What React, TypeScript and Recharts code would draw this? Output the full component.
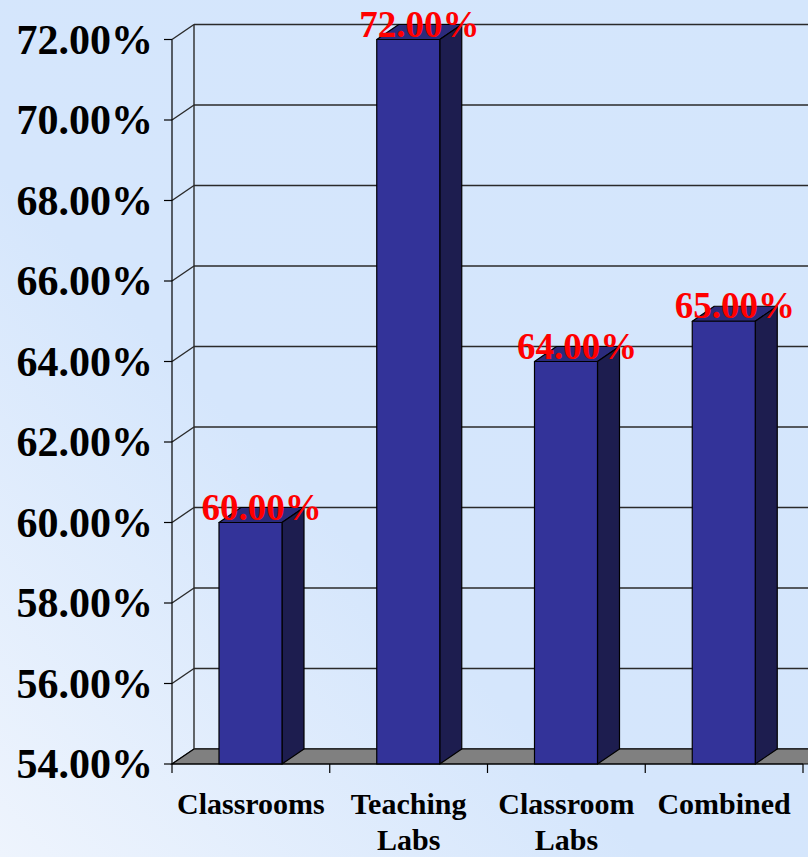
import { BarChart, Bar, XAxis, YAxis, CartesianGrid, ReferenceArea, LabelList } from 'recharts';

const categories = ['Classrooms', 'Teaching Labs', 'Classroom Labs', 'Combined'];
const percentages = [60, 72, 64, 65];
const yTicks = [54, 56, 58, 60, 62, 64, 66, 68, 70, 72];

const data = categories.map((name, i) => ({ name, value: percentages[i] }));

// depth offset of the 3D box (back wall sits up and to the right)
const DX = 22;
const DY = -15;
const SERIF = '"Liberation Serif", "Times New Roman", serif';

const fmt = (v: number) => `${v.toFixed(2)}%`;

function Bar3D(props: any) {
  const { x, y, width, height } = props;
  if (height == null || width == null) return null;
  return (
    <g stroke="#000" strokeWidth={1.2} strokeLinejoin="round">
      <polygon
        points={`${x},${y} ${x + DX},${y + DY} ${x + width + DX},${y + DY} ${x + width},${y}`}
        fill="#2b2b7c"
      />
      <polygon
        points={`${x + width},${y} ${x + width + DX},${y + DY} ${x + width + DX},${y + height + DY} ${x + width},${y + height}`}
        fill="#1d1d4f"
      />
      <rect x={x} y={y} width={width} height={height} fill="#333399" />
    </g>
  );
}

function ValueLabel(props: any) {
  const { x = 0, y = 0, width = 0, value } = props;
  return (
    <text
      x={x + width / 2 + DX / 2}
      y={y - 3}
      fill="#ff0000"
      fontSize={37}
      fontWeight="bold"
      fontFamily={SERIF}
      textAnchor="middle"
    >
      {fmt(value)}
    </text>
  );
}

function WallLine(props: any) {
  const { x1, y1, x2 } = props;
  return (
    <g stroke="#2a2a2a" strokeWidth={1.4}>
      <line x1={x1} y1={y1} x2={x1 + DX} y2={y1 + DY} />
      <line x1={x1 + DX} y1={y1 + DY} x2={x2 + DX} y2={y1 + DY} />
    </g>
  );
}

function Frame(props: any) {
  const { x, y, width, height } = props;
  const bottom = y + height;
  const right = x + width + DX;
  return (
    <g>
      <polygon
        points={`${x},${bottom} ${right},${bottom} ${right},${bottom + DY} ${x + DX},${bottom + DY}`}
        fill="#808080"
        stroke="#000"
        strokeWidth={1.2}
      />
      <line x1={x + DX} y1={y + DY} x2={x + DX} y2={bottom + DY} stroke="#2a2a2a" strokeWidth={1.4} />
    </g>
  );
}

function YTick(props: any) {
  const { x, y, payload } = props;
  return (
    <text
      x={x}
      y={y}
      dy={14}
      textAnchor="end"
      fontSize={42}
      fontWeight="bold"
      fontFamily={SERIF}
      fill="#000"
    >
      {fmt(payload.value)}
    </text>
  );
}

function XTick(props: any) {
  const { x, y, payload, width, visibleTicksCount, index } = props;
  const band = width / visibleTicksCount;
  const lines = String(payload.value).split(' ');
  const axisY = y - 9;
  return (
    <g>
      <line x1={x - band / 2} y1={axisY} x2={x - band / 2} y2={axisY + 9} stroke="#000" strokeWidth={1.2} />
      {index === visibleTicksCount - 1 && (
        <line x1={x + band / 2} y1={axisY} x2={x + band / 2} y2={axisY + 9} stroke="#000" strokeWidth={1.2} />
      )}
      <text textAnchor="middle" fontSize={30} fontWeight="bold" fontFamily={SERIF} fill="#000">
        {lines.map((line, i) => (
          <tspan key={i} x={x} y={axisY + 50 + i * 36}>
            {line}
          </tspan>
        ))}
      </text>
    </g>
  );
}

export default function App() {
  return (
    <div
      style={{
        position: 'absolute',
        left: 0,
        top: 0,
        width: 808,
        height: 857,
        overflow: 'hidden',
        background: 'linear-gradient(to top right, #eef4fd 0%, #d5e6fc 40%, #d4e6fc 100%)',
      }}
    >
      <BarChart
        width={808}
        height={857}
        data={data}
        margin={{ top: 39.5, right: 5, left: 0, bottom: 0 }}
        barSize={63}
      >
        <ReferenceArea y1={54} y2={72} shape={<Frame />} ifOverflow="visible" />
        <CartesianGrid vertical={false} horizontal={(p: any) => <WallLine key={p.key} {...p} />} />
        <XAxis
          dataKey="name"
          height={93}
          axisLine={{ stroke: '#000', strokeWidth: 1.2 }}
          tickLine={false}
          tickSize={9}
          tickMargin={0}
          interval={0}
          tick={<XTick />}
        />
        <YAxis
          width={172}
          domain={[54, 72]}
          ticks={yTicks}
          interval={0}
          axisLine={{ stroke: '#000', strokeWidth: 1.2 }}
          tickLine={{ stroke: '#000', strokeWidth: 1.2 }}
          tickSize={8}
          tickMargin={11}
          tick={<YTick />}
        />
        <Bar dataKey="value" shape={<Bar3D />} isAnimationActive={false}>
          <LabelList dataKey="value" content={<ValueLabel />} />
        </Bar>
      </BarChart>
    </div>
  );
}
